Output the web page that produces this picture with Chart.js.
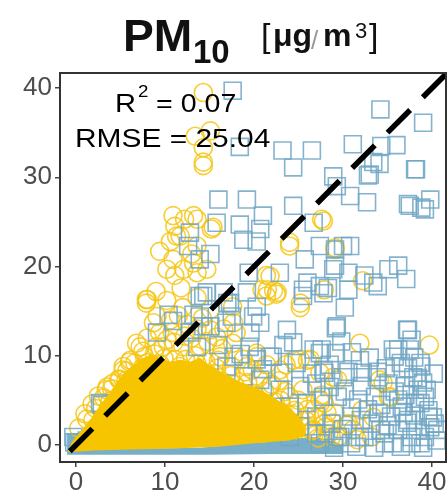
<!DOCTYPE html>
<html>
<head>
<meta charset="utf-8">
<script src="https://cdn.jsdelivr.net/npm/chart.js@4.4.1/dist/chart.umd.min.js"></script>
<style>
  body { margin: 0; background: #fff; }
  #wrap { position: relative; width: 448px; height: 490px; }
</style>
</head>
<body>
<div id="wrap"><canvas id="myChart" width="448" height="490"></canvas></div>
<script>
// axis ticks
const tickValues = [0, 10, 20, 30, 40];

// annotation text
const r2Text = "0.07";
const rmseText = "25.04";

const squarePoints = [
    [17.6, 39.7], [34.2, 37.6], [39.0, 36.1], [23.2, 33.0], [26.5, 33.0], [31.1, 33.7], [34.3, 33.5],
    [36.0, 33.6], [24.4, 31.1], [28.9, 30.1], [33.4, 31.7], [33.0, 30.3], [38.1, 30.9], [29.3, 29.0],
    [16.0, 27.5], [19.2, 27.5], [24.4, 26.8], [30.8, 27.9], [32.7, 27.2], [37.5, 26.8], [39.8, 27.5],
    [39.2, 26.4], [15.8, 24.9], [18.4, 24.7], [21.0, 25.7], [20.7, 24.2], [18.8, 23.0], [20.3, 22.8],
    [26.7, 24.9], [27.4, 22.3], [30.0, 22.3], [12.8, 23.8], [12.6, 22.3], [18.4, 33.4], [15.1, 21.4],
    [19.4, 19.3], [22.9, 19.3], [25.5, 17.4], [27.4, 17.8], [13.9, 16.7], [16.6, 17.1], [25.7, 20.8],
    [34.1, 31.5], [32.8, 30.2], [38.2, 30.9], [37.3, 27.0], [38.8, 26.6], [30.8, 22.3], [29.1, 21.9],
    [29.1, 20.1], [30.6, 19.3], [32.4, 19.0], [35.1, 19.7], [36.2, 20.1], [37.1, 18.6], [33.9, 17.8],
    [30.6, 17.4], [28.3, 17.6], [10.4, 14.6], [10.9, 13.9], [9.1, 12.6], [2.9, 4.5], [13.2, 14.6],
    [12.8, 12.6], [30.2, 15.4], [29.2, 13.1], [37.3, 12.9], [37.7, 11.8], [36.2, 10.7], [29.2, 10.3],
    [27.6, 10.7], [30.6, 8.2], [32.2, 8.1], [33.9, 8.2], [35.8, 9.9], [37.3, 8.6], [38.4, 7.5],
    [38.8, 8.8], [27.9, 8.1], [32.1, 6.6], [35.1, 6.9], [36.9, 6.6], [38.4, 6.2], [29.4, 5.4],
    [31.7, 5.1], [33.6, 5.4], [36.2, 5.1], [38.1, 4.7], [39.2, 5.4], [39.6, 3.2], [40.3, 2.4],
    [37.3, 2.8], [35.4, 3.2], [33.2, 2.4], [30.9, 3.2], [28.7, 2.4], [29.4, 0.9], [32.4, 0.9],
    [34.7, 1.3], [37.7, 0.9], [38.4, 1.7], [36.2, 1.7], [34.7, 0.2], [30.9, 0.2], [37.7, 0.2],
    [39.2, 0.9], [36.6, 4.3], [39.6, 3.9], [14.3, 16.7], [17.3, 15.9], [17.5, 14.4], [20.3, 15.5],
    [25.5, 16.7], [27.8, 17.0], [13.9, 14.4], [15.1, 13.3], [16.9, 13.7], [20.7, 13.7], [19.6, 12.6],
    [23.7, 12.9], [23.3, 11.2], [26.7, 10.7], [13.6, 11.0], [17.7, 9.9], [20.3, 9.6], [21.8, 9.9],
    [24.8, 9.2], [16.9, 8.8], [18.8, 7.7], [23.3, 8.1], [27.8, 8.4], [20.7, 7.3], [27.0, 6.9],
    [22.9, 6.2], [25.2, 6.6], [27.8, 5.4], [25.9, 4.7], [24.0, 4.3], [27.0, 3.2], [25.2, 2.1],
    [22.9, 1.7], [27.0, 1.3], [24.0, 0.9], [13.9, 20.8], [14.7, 17.1], [17.0, 15.9], [19.2, 17.1],
    [14.3, 13.3], [19.9, 14.4], [24.4, 11.5], [26.0, 18.2], [28.9, 19.7], [29.3, 13.3], [33.4, 18.2],
    [37.2, 12.9], [35.6, 10.7], [37.5, 10.7], [38.7, 9.2], [31.9, 9.5], [27.4, 10.3], [22.1, 9.9],
    [30.0, 7.6], [33.8, 7.6], [37.9, 7.6], [39.4, 6.2], [38.7, 4.7], [40.1, 3.1], [40.6, 1.7],
    [37.2, 2.5], [34.2, 1.7], [31.9, 0.9], [35.6, 0.2], [38.7, 0.2], [29.7, 0.9], [27.4, 0.2],
    [2.7, 4.7], [-0.3, 0.9], [-0.2, 0.3], [1.2, 0.5],
    [28.5, 6.5], [30.2, 6.0], [31.0, 4.2], [32.8, 4.0], [34.3, 4.5], [35.0, 2.2], [36.8, 3.6],
    [38.0, 3.3], [39.8, 2.0], [40.5, 0.5], [39.0, -0.3], [36.5, -0.2], [33.5, -0.3], [31.5, -0.2],
    [29.0, -0.3], [28.0, 1.3], [30.0, 1.8], [32.0, 2.8], [34.0, 3.6], [35.8, 6.0], [37.0, 5.6],
    [39.0, 7.0], [40.2, 8.0], [38.0, 9.8], [36.5, 9.2], [34.8, 8.6], [33.0, 9.8], [31.0, 10.4],
    [29.8, 11.6], [28.5, 9.0], [26.5, 8.0], [21.0, 8.5], [19.5, 11.0], [18.5, 10.2], [16.0, 11.2]
];

// hollow circles (yellow)
const circlePoints = [
    [14.3, 39.5], [13.4, 34.6], [15.1, 35.2], [14.3, 33.3], [14.3, 31.3], [10.9, 25.7], [13.2, 25.7],
    [12.2, 25.3], [11.1, 24.5], [15.2, 24.2], [11.3, 23.4], [10.6, 22.8], [9.4, 21.7], [27.6, 25.3],
    [24.0, 22.7], [29.1, 22.1], [11.7, 23.4], [10.9, 20.8], [10.2, 19.7], [12.1, 19.7], [13.0, 21.4],
    [13.6, 19.3], [11.1, 19.0], [7.9, 16.3], [14.3, 31.7], [13.6, 25.3], [15.4, 24.4], [13.6, 22.3],
    [13.2, 20.4], [14.7, 19.7], [24.0, 22.3], [27.8, 25.1], [21.4, 19.0], [20.9, 17.4], [22.2, 17.3],
    [29.1, 21.9], [32.2, 18.4], [27.9, 17.4], [7.9, 15.9], [8.7, 13.7], [6.8, 11.4], [5.3, 8.4],
    [3.4, 6.2], [9.4, 12.6], [10.2, 11.8], [4.9, 7.3], [31.9, 11.4], [39.7, 11.2], [29.4, 7.3],
    [34.1, 7.3], [35.1, 5.4], [27.9, 4.7], [29.1, 3.6], [27.9, 2.4], [30.6, 2.4], [33.2, 0.9],
    [32.1, 3.9], [28.7, 0.9], [13.6, 16.5], [21.4, 16.7], [22.5, 16.9], [25.2, 15.4], [17.7, 13.7],
    [15.1, 12.9], [16.2, 9.9], [20.3, 10.3], [25.2, 9.6], [26.3, 9.6], [27.4, 8.1], [22.9, 8.4],
    [21.8, 6.6], [25.5, 6.2], [24.0, 5.4], [27.4, 5.1], [23.3, 3.6], [25.9, 3.2], [22.5, 2.1],
    [24.8, 1.7], [26.7, 1.7], [21.0, 1.3], [21.8, 18.9], [21.5, 17.4], [22.6, 17.1], [25.2, 15.9],
    [8.0, 16.3], [9.1, 14.4], [10.6, 14.0], [7.2, 11.0], [8.0, 9.2], [5.3, 8.8], [3.5, 6.5],
    [6.1, 9.5], [15.1, 15.2], [17.6, 15.5], [15.8, 12.1], [19.2, 8.8], [20.3, 9.9], [24.4, 9.5],
    [26.0, 9.5], [28.9, 7.6], [34.5, 7.0], [35.3, 5.4], [22.6, 3.1], [24.4, 2.5], [26.6, 1.7],
    [28.9, 2.5], [31.1, 1.7], [33.4, 3.1], [1.0, 3.5], [1.8, 4.6], [2.5, 5.5], [4.1, 6.9],
    [6.0, 9.3], [7.5, 10.5], [8.0, 12.0], [9.0, 11.0], [11.0, 11.5], [12.0, 11.0], [13.0, 12.0],
    [14.0, 11.0], [12.5, 13.5], [11.5, 14.5], [16.0, 9.5], [17.5, 8.8], [19.0, 8.2], [20.5, 7.5],
    [22.0, 6.8], [23.5, 6.0], [25.0, 5.0], [26.0, 4.0], [27.0, 3.0], [28.0, 2.0],
    [0.3, 1.9], [1.2, 2.9], [2.2, 4.1], [3.1, 5.3], [4.0, 6.3], [4.8, 7.4], [5.7, 8.3], [6.6, 9.2],
    [7.7, 9.9], [8.8, 10.2], [9.9, 9.7], [11.1, 9.6], [12.3, 9.6], [13.4, 10.0], [14.6, 9.3],
    [15.8, 8.6], [17.4, 7.8], [19.3, 7.0], [21.2, 6.0], [23.0, 5.0], [24.6, 3.9], [25.8, 2.8],
    [26.5, 1.6], [1.9, 2.8], [3.8, 4.9], [5.6, 7.2], [7.4, 8.6], [9.5, 9.0], [11.6, 8.8], [13.6, 9.1],
    [15.5, 8.0], [17.8, 6.8], [20.0, 5.8], [22.4, 4.8], [24.4, 3.4], [26.0, 2.0], [27.2, 0.8],
    [28.4, 1.2], [29.6, 1.0], [30.4, 2.2], [31.6, 0.6], [26.8, 4.0], [27.6, 5.6], [28.2, 3.6],
    [9.8, 11.0], [10.8, 12.6], [12.2, 12.2], [13.6, 13.0], [14.8, 11.6], [16.4, 10.8], [17.6, 11.4],
    [18.8, 9.6], [19.8, 8.4], [21.4, 9.0], [22.8, 7.2], [23.6, 9.0], [18.0, 12.6], [16.6, 13.0],
    [14.2, 14.2], [12.0, 15.4], [10.2, 16.2], [9.0, 17.2], [11.8, 17.6]
];

// outline of the solid yellow mass near the origin
const blobOutline = [
    [-0.9, -0.6], [-0.45, 0.34], [0.45, 1.46], [1.57, 2.81], [2.7, 4.49], [3.6, 5.62], [4.38, 6.74],
    [5.17, 7.87], [6.07, 8.65], [7.19, 9.55], [8.31, 10.11], [9.44, 9.78], [10.56, 9.33], [11.69, 9.55],
    [12.81, 9.33], [13.93, 9.78], [15.06, 8.88], [16.52, 8.09], [18.43, 7.08], [20.34, 6.4], [22.13, 5.39],
    [24.04, 4.16], [25.17, 3.03], [25.7, 1.69], [25.7, 1.0], [24, 0.5], [20, 0.2], [16, -0.2],
    [11, -0.4], [6, -0.5], [2, -0.6], [-0.9, -0.8]
];

// outline of the solid blue band under it
const bandOutline = [
    [-1.0, 1.35], [2.4, 1.35], [2.5, -0.3], [8, -0.4], [14, -0.3], [17, 0.0], [20, 0.4], [24, 0.7],
    [27, 0.9], [29, 0.4], [30, 0.0], [30, -1.0], [22, -1.0], [15, -1.1], [8, -1.1], [2, -1.1], [-1.0, -1.1]
];

// 1:1 line
const oneToOne = [-0.7, 45];

const toXY = arr => arr.map(p => ({ x: p[0], y: p[1] }));

const FONT = '"Liberation Sans", Arial, sans-serif';

function stretchText(ctx, text, x, y, font, sx) {
    ctx.save();
    ctx.font = font;
    ctx.translate(x, y);
    ctx.scale(sx, 1);
    ctx.fillText(text, 0, 0);
    ctx.restore();
}

const decorations = {
    id: 'decorations',
    afterDatasetsDraw(chart) {
        const ctx = chart.ctx;
        const a = chart.chartArea;
        ctx.save();
        ctx.strokeStyle = '#333';
        ctx.lineWidth = 2;
        ctx.strokeRect(a.left, a.top, a.right - a.left, a.bottom - a.top);

        ctx.fillStyle = '#000';
        ctx.textBaseline = 'alphabetic';
        ctx.textAlign = 'left';
        stretchText(ctx, 'R', 115, 112, '26px ' + FONT, 1.12);
        stretchText(ctx, '2', 138, 97, '17px ' + FONT, 1.1);
        stretchText(ctx, '= ' + r2Text, 156, 112, '26px ' + FONT, 1.1);
        stretchText(ctx, 'RMSE = ' + rmseText, 75, 147, '26px ' + FONT, 1.15);
        ctx.restore();
    },
    afterDraw(chart) {
        const ctx = chart.ctx;
        ctx.save();
        ctx.fillStyle = '#111';
        ctx.textBaseline = 'alphabetic';
        ctx.textAlign = 'left';
        stretchText(ctx, 'PM', 123, 51, 'bold 44px ' + FONT, 1.05);
        stretchText(ctx, '10', 193, 63, 'bold 33px ' + FONT, 1.0);
        stretchText(ctx, '[', 261, 47, '34px ' + FONT, 1.0);
        stretchText(ctx, 'μg', 273, 46, 'bold 32px ' + FONT, 1.0);
        ctx.fillStyle = '#999';
        stretchText(ctx, '/', 311, 49, '26px ' + FONT, 1.0);
        ctx.fillStyle = '#111';
        stretchText(ctx, 'm', 323, 46, 'bold 32px ' + FONT, 1.0);
        stretchText(ctx, '3', 355, 38, '22px ' + FONT, 1.0);
        stretchText(ctx, ']', 369, 47, '34px ' + FONT, 1.0);
        ctx.restore();
    }
};

const setTicks = scale => { scale.ticks = tickValues.map(v => ({ value: v })); };

let chart = new Chart("myChart", {
    type: "scatter",
    data: {
        datasets: [
            {
                type: 'line',
                data: [{ x: oneToOne[0], y: oneToOne[0] }, { x: oneToOne[1], y: oneToOne[1] }],
                borderColor: '#000',
                borderWidth: 5.5,
                borderDash: [32, 18],
                pointRadius: 0,
                fill: false,
                order: 0
            },
            {
                type: 'line',
                data: toXY(blobOutline),
                borderWidth: 0,
                borderColor: 'rgba(0,0,0,0)',
                backgroundColor: '#f7c500',
                pointRadius: 0,
                fill: 'shape',
                order: 1
            },
            {
                data: toXY(squarePoints),
                pointStyle: 'rect',
                pointRadius: 12,
                borderWidth: 1.6,
                borderColor: 'rgba(112,166,196,0.85)',
                backgroundColor: 'rgba(0,0,0,0)',
                order: 2
            },
            {
                data: toXY(circlePoints),
                pointStyle: 'circle',
                pointRadius: 9,
                borderWidth: 1.6,
                borderColor: 'rgba(246,198,20,0.85)',
                backgroundColor: 'rgba(0,0,0,0)',
                order: 3
            },
            {
                type: 'line',
                data: toXY(bandOutline),
                borderWidth: 0,
                borderColor: 'rgba(0,0,0,0)',
                backgroundColor: '#78aec8',
                pointRadius: 0,
                fill: 'shape',
                order: 4
            }
        ]
    },
    options: {
        responsive: false,
        animation: false,
        devicePixelRatio: 1,
        layout: { autoPadding: false, padding: { top: 73, right: 2, left: 0, bottom: 0 } },
        plugins: { legend: { display: false }, tooltip: { enabled: false } },
        scales: {
            x: {
                type: 'linear',
                min: -1.8,
                max: 41.57,
                afterBuildTicks: setTicks,
                afterFit: s => { s.height = 28; s.paddingLeft = 0; s.paddingRight = 0; },
                grid: { drawOnChartArea: false, tickLength: 5, color: '#444', lineWidth: 1.5 },
                border: { display: false },
                ticks: { color: '#4d4d4d', font: { family: FONT, size: 26 }, padding: 0, maxRotation: 0 }
            },
            y: {
                type: 'linear',
                min: -1.9,
                max: 41.68,
                afterBuildTicks: setTicks,
                afterFit: s => { s.width = 60; s.paddingTop = 0; s.paddingBottom = 0; },
                grid: { drawOnChartArea: false, tickLength: 5, color: '#444', lineWidth: 1.5 },
                border: { display: false },
                ticks: { color: '#4d4d4d', font: { family: FONT, size: 26 }, padding: 3 }
            }
        }
    },
    plugins: [decorations]
});
</script>
</body>
</html>
